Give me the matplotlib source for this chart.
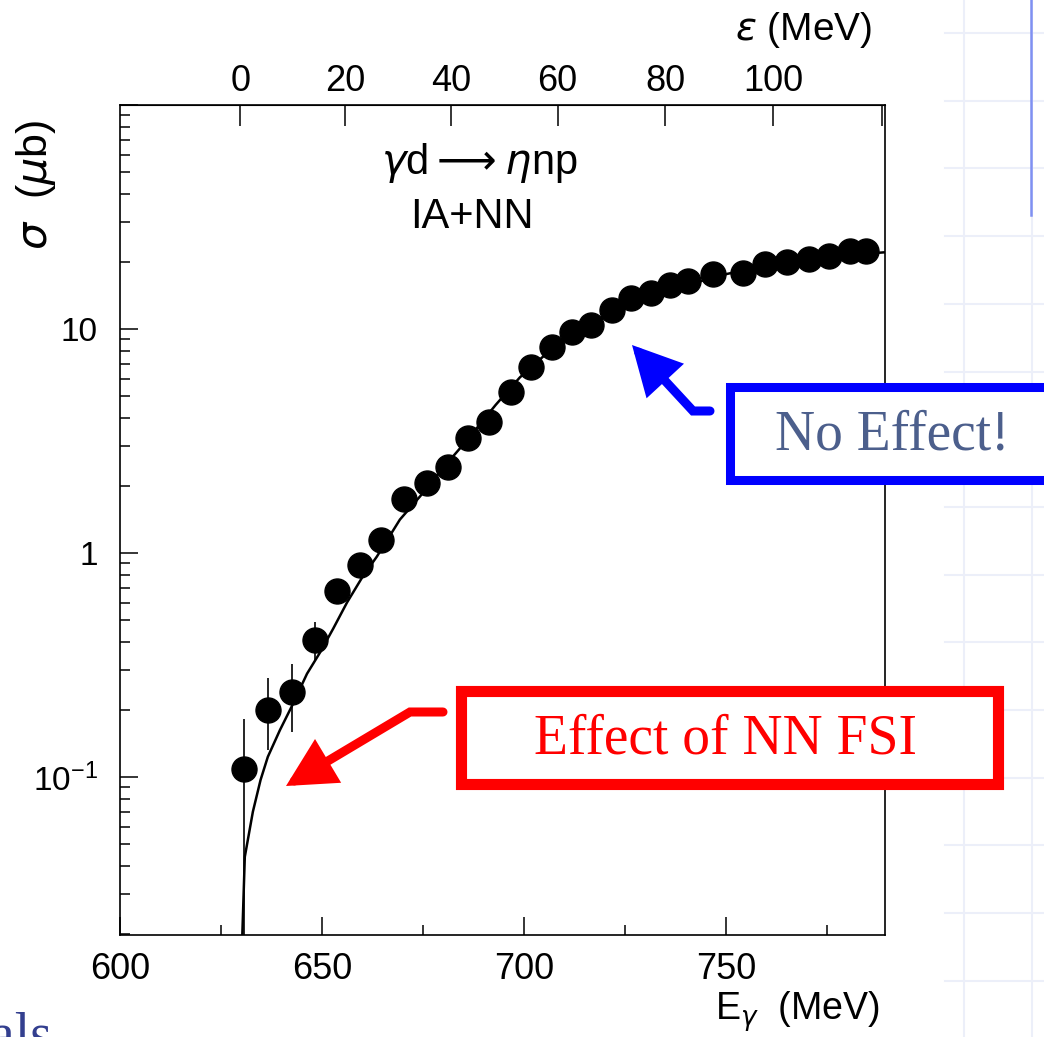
import numpy as np
import matplotlib
matplotlib.use('Agg')
import matplotlib.pyplot as plt
from matplotlib.patches import Rectangle, FancyArrowPatch
from matplotlib.path import Path
from matplotlib.lines import Line2D

W, H = 1044, 1037

# measured cross section gamma d -> eta n p (microbarn)
e_gamma = [630.8, 636.7, 642.5, 648.3, 653.8, 659.4, 664.6, 670.3, 675.9, 681.1,
           686.2, 691.3, 696.7, 701.7, 706.9, 711.8, 716.6, 721.9, 726.6, 731.4,
           736.1, 740.7, 746.9, 754.3, 759.7, 765.2, 770.6, 775.6, 780.7, 784.7]
sigma = [0.109, 0.20, 0.239, 0.407, 0.679, 0.885, 1.14, 1.75, 2.06, 2.42,
         3.25, 3.85, 5.24, 6.78, 8.28, 9.66, 10.4, 12.2, 13.7, 14.5,
         15.7, 16.4, 17.6, 17.7, 19.5, 19.9, 20.6, 21.1, 22.2, 22.2]
err_lo = [0.099, 0.068, 0.080, 0.074, 0.06, 0.05, 0.05, 0.06, 0.06, 0.08,
          0.1, 0.1, 0.1, 0.1, 0.1, 0.1, 0.1, 0.1, 0.1, 0.1,
          0.1, 0.1, 0.1, 0.1, 0.1, 0.1, 0.1, 0.1, 0.1, 0.1]
err_hi = [0.073, 0.077, 0.082, 0.087, 0.063, 0.05, 0.05, 0.06, 0.06, 0.10,
          0.1, 0.1, 0.1, 0.1, 0.1, 0.1, 0.1, 0.1, 0.1, 0.1,
          0.1, 0.1, 0.1, 0.1, 0.1, 0.1, 0.1, 0.1, 0.1, 0.1]

# IA + NN calculation
curve_e = [629.9, 630.9, 632.9, 634.8, 636.6, 639.6, 642.6, 646.3, 649.5, 652.8,
           656.2, 660.0, 663.6, 669.3, 674.3, 680.0, 686.0, 693.0, 699.0, 705.0,
           711.0, 717.0, 723.0, 730.0, 737.0, 744.0, 750.2, 760.0, 770.0, 780.0, 789.4]
curve_s = [0.012, 0.044, 0.070, 0.097, 0.123, 0.162, 0.208, 0.289, 0.359, 0.46,
           0.601, 0.78, 0.964, 1.41, 1.79, 2.4, 3.2, 4.58, 6.08, 7.6,
           9.2, 10.7, 12.0, 13.6, 15.0, 16.4, 17.6, 19.2, 20.4, 21.4, 22.0]

x_ticks = [600, 650, 700, 750]
eps_ticks = [0, 20, 40, 60, 80, 100, 120]
eps_labels = ['0', '20', '40', '60', '80', '100', '']

MD = 1875.61
W_TH = 2424.95


def to_eps(e):
    return np.sqrt(MD ** 2 + 2 * MD * np.asarray(e, dtype=float)) - W_TH


def from_eps(eps):
    return ((np.asarray(eps, dtype=float) + W_TH) ** 2 - MD ** 2) / (2 * MD)


def px(x, y):
    return (x / W, 1 - y / H)


sans = ['Liberation Sans Narrow', 'Liberation Sans', 'DejaVu Sans']
serif = ['Liberation Serif', 'DejaVu Serif']
plt.rcParams['font.family'] = sans
plt.rcParams['mathtext.fontset'] = 'dejavusans'

fig = plt.figure(figsize=(W / 100, H / 100), dpi=100)

# slide background grid to the right of the plot
grid_c = '#eceff9'
for gy in np.arange(33, H, 67.7):
    fig.add_artist(Line2D([945 / W, 1], [1 - gy / H] * 2, color=grid_c, lw=1.5,
                          zorder=0.5))
for gx in [964, 1032]:
    fig.add_artist(Line2D([gx / W] * 2, [0, 1], color=grid_c, lw=1.5, zorder=0.5))
fig.add_artist(Line2D([1031 / W] * 2, [1, 1 - 215 / H], color='#7f90f2', lw=1.8,
                      zorder=0.6))

ax = fig.add_axes([120 / W, 1 - 935 / H, 765 / W, 830 / H])
ax.set_yscale('log')
ax.set_xlim(600, 789.4)
ax.set_ylim(0.0197, 100)

ax.plot(curve_e, curve_s, color='black', lw=1.8, zorder=2)
ax.errorbar(e_gamma, sigma, yerr=[err_lo, err_hi], fmt='o', color='black',
            ms=18, elinewidth=1.2, capsize=0, zorder=3)

for s in ax.spines.values():
    s.set_linewidth(1.2)

ax.set_xticks(x_ticks)
ax.set_xticklabels([str(t) for t in x_ticks])
ax.set_xticks([625, 675, 725, 775], minor=True)
ax.set_yticks([0.1, 1, 10, 100])
ax.set_yticklabels([r'$\mathregular{10^{-1}}$', '1', '10', ''])
ax.tick_params(which='both', direction='in', top=False, right=False, width=1.1)
ax.tick_params(which='major', length=13)
ax.tick_params(which='minor', length=7)
ax.tick_params(axis='x', which='major', labelsize=26, pad=12)
ax.tick_params(axis='y', which='major', labelsize=24, pad=16)

top = ax.secondary_xaxis('top', functions=(to_eps, from_eps))
top.set_xticks(eps_ticks)
top.set_xticklabels(eps_labels)
top.tick_params(direction='in', length=15, width=1.1, labelsize=26, pad=4)
top.xaxis.set_minor_locator(matplotlib.ticker.NullLocator())

ax.text(0.47, 0.93, r'$\gamma$d$\longrightarrow\eta$np', transform=ax.transAxes,
        ha='center', va='center', fontsize=30)
ax.text(0.46, 0.865, 'IA+NN', transform=ax.transAxes, ha='center', va='center',
        fontsize=30)

fig.text(*px(36, 185), r'$\sigma$  ($\mu$b)', rotation=90, ha='center', va='center',
         fontsize=31)
fig.text(*px(880, 1012), r'E$_\gamma$  (MeV)', ha='right', va='center', fontsize=27)
fig.text(*px(872, 30), r'$\varepsilon$ (MeV)', ha='right', va='center', fontsize=28)

# callout boxes
fig.add_artist(Rectangle(px(460.5, 783.5), 537 / W, 93 / H, transform=fig.transFigure,
                         fill=True, facecolor='white', edgecolor='#ff0000', lw=8,
                         joinstyle='miter', zorder=3))
fig.text(*px(726, 740), 'Effect of NN FSI', color='#ff0000', family=serif,
         fontsize=40, ha='center', va='center', zorder=4)
fig.add_artist(Rectangle(px(729.5, 479.5), 340 / W, 92 / H, transform=fig.transFigure,
                         fill=True, facecolor='white', edgecolor='#0000ff', lw=6.5,
                         joinstyle='miter', clip_on=False, zorder=3))
fig.text(*px(892, 436), 'No Effect!', color='#4c5f8c', family=serif,
         fontsize=40, ha='center', va='center', zorder=4)

red_path = Path([px(443, 712), px(410, 712), px(286, 786)])
fig.add_artist(FancyArrowPatch(path=red_path, transform=fig.transFigure,
                               arrowstyle='-|>,head_length=1,head_width=0.52',
                               mutation_scale=25, color='#ff0000', lw=6.5,
                               joinstyle='miter', zorder=4))
blue_path = Path([px(710, 411), px(693, 411), px(632, 345)])
fig.add_artist(FancyArrowPatch(path=blue_path, transform=fig.transFigure,
                               arrowstyle='-|>,head_length=1,head_width=0.52',
                               mutation_scale=25, color='#0000ff', lw=6.5,
                               joinstyle='miter', zorder=4))

fig.text(*px(52, 1052), 'als', color='#333f8f', family=serif, fontsize=40,
         ha='right', va='baseline')

fig.savefig('out.png', dpi=100, facecolor='white')
